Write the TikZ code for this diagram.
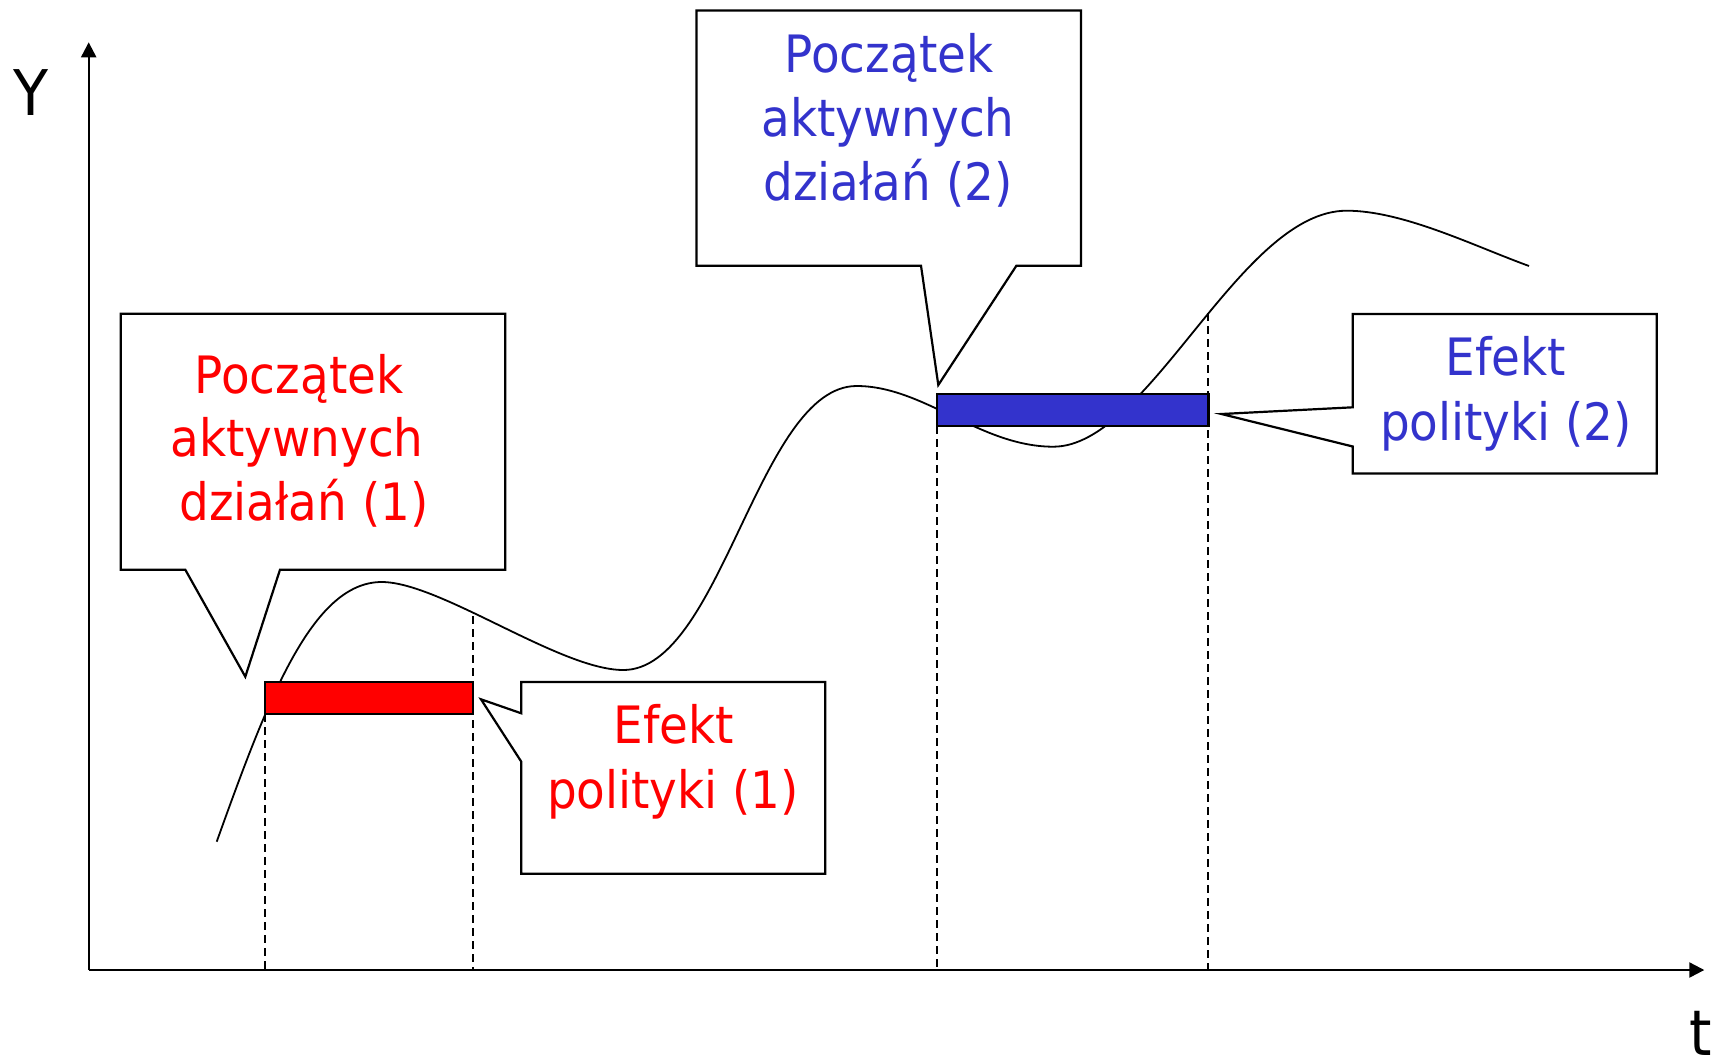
\documentclass[tikz,border=0pt]{standalone}
\usepackage{fontspec}
\setmainfont{DejaVu Sans}[FakeStretch=0.91]
\usetikzlibrary{arrows.meta}
\definecolor{cred}{RGB}{255,0,0}
\definecolor{cblue}{RGB}{51,51,204}
\begin{document}
\begin{tikzpicture}[x=1pt,y=-1pt,
  axis/.style={line width=2.2pt,-{Triangle[length=15pt,width=15pt]}},
  callbox/.style={draw=black,line width=2.2pt,fill=white,line join=miter},
  barbox/.style={draw=black,line width=2.4pt},
  guide/.style={line width=2pt,dash pattern=on 8pt off 5pt},
  curveline/.style={line width=1.8pt},
  lbl/.style={inner sep=0pt,anchor=base,font=\fontsize{51.5}{64}\selectfont},
  axlbl/.style={inner sep=0pt,anchor=base,font=\fontsize{63}{70}\selectfont}]
\useasboundingbox[fill=white] (0,0) rectangle (1721,1061);

% axes
\coordinate (O) at (88.7,970);
\coordinate (Ytop) at (88.7,42.3);
\coordinate (Xend) at (1704.3,970);
\draw[axis] (O) -- (Ytop);
\draw[axis] (O) -- (Xend);
\node[axlbl] (ylab) at (31,115) {Y};
\node[axlbl] (tlab) at (1701,1055) {t};

% guides
\coordinate (g1t) at (265,714);    \coordinate (g1b) at (265,970);
\coordinate (g2t) at (472.7,616);  \coordinate (g2b) at (472.7,970);
\coordinate (g3t) at (937,426);    \coordinate (g3b) at (937,970);
\coordinate (g4t) at (1208.3,313); \coordinate (g4b) at (1208.3,970);
\draw[guide] (g1t) -- (g1b);
\draw[guide] (g2t) -- (g2b);
\draw[guide] (g3t) -- (g3b);
\draw[guide] (g4t) -- (g4b);

% curve
\draw[curveline] (216.7,841.7)
  .. controls (267.3,700.7) and (311.7,582) .. (381.7,582)
  .. controls (440,582) and (560,670) .. (623.3,670)
  .. controls (721.3,670) and (758.7,386) .. (856.7,386)
  .. controls (923.7,386) and (980.3,446.7) .. (1053.3,446.7)
  .. controls (1149.3,446.7) and (1239.7,210.7) .. (1346.7,210.7)
  .. controls (1403,210.7) and (1474,246) .. (1529,266);

% bars
\draw[barbox,fill=cred] (265,682) rectangle (472.7,714);
\draw[barbox,fill=cblue] (937,393.7) rectangle (1208.3,425.7);

% callout 1
\draw[callbox] (120.7,313.7) -- (505.3,313.7) -- (505.3,569.7) -- (280,569.7)
  -- (245.3,676.7) -- (185.3,569.7) -- (120.7,569.7) -- cycle;
\node[lbl,text=cred] (c1a) at (299,393.3) {Początek};
\node[lbl,text=cred] (c1b) at (297,456.7) {aktywnych};
\node[lbl,text=cred] (c1c) at (304,520.7) {działań (1)};

% callout 2
\draw[callbox] (696.5,10.5) -- (1081,10.5) -- (1081,265.7) -- (1016.4,265.7)
  -- (938.3,385) -- (921,265.7) -- (696.5,265.7) -- cycle;
\node[lbl,text=cblue] (c2a) at (889,72.7) {Początek};
\node[lbl,text=cblue] (c2b) at (888,136.7) {aktywnych};
\node[lbl,text=cblue] (c2c) at (888,200.7) {działań (2)};

% callout 3
\draw[callbox] (521.3,682) -- (825.3,682) -- (825.3,873.7) -- (521.3,873.7)
  -- (521.3,761.7) -- (481,699.3) -- (521.3,713.3) -- cycle;
\node[lbl,text=cred] (c3a) at (674,743.3) {Efekt};
\node[lbl,text=cred] (c3b) at (673,808.3) {polityki (1)};

% callout 4
\draw[callbox] (1352.8,314) -- (1656.7,314) -- (1656.7,473.5) -- (1352.8,473.5)
  -- (1352.8,446.5) -- (1221.4,414) -- (1352.8,407.3) -- cycle;
\node[lbl,text=cblue] (c4a) at (1506,375) {Efekt};
\node[lbl,text=cblue] (c4b) at (1506,440) {polityki (2)};
\end{tikzpicture}
\end{document}
